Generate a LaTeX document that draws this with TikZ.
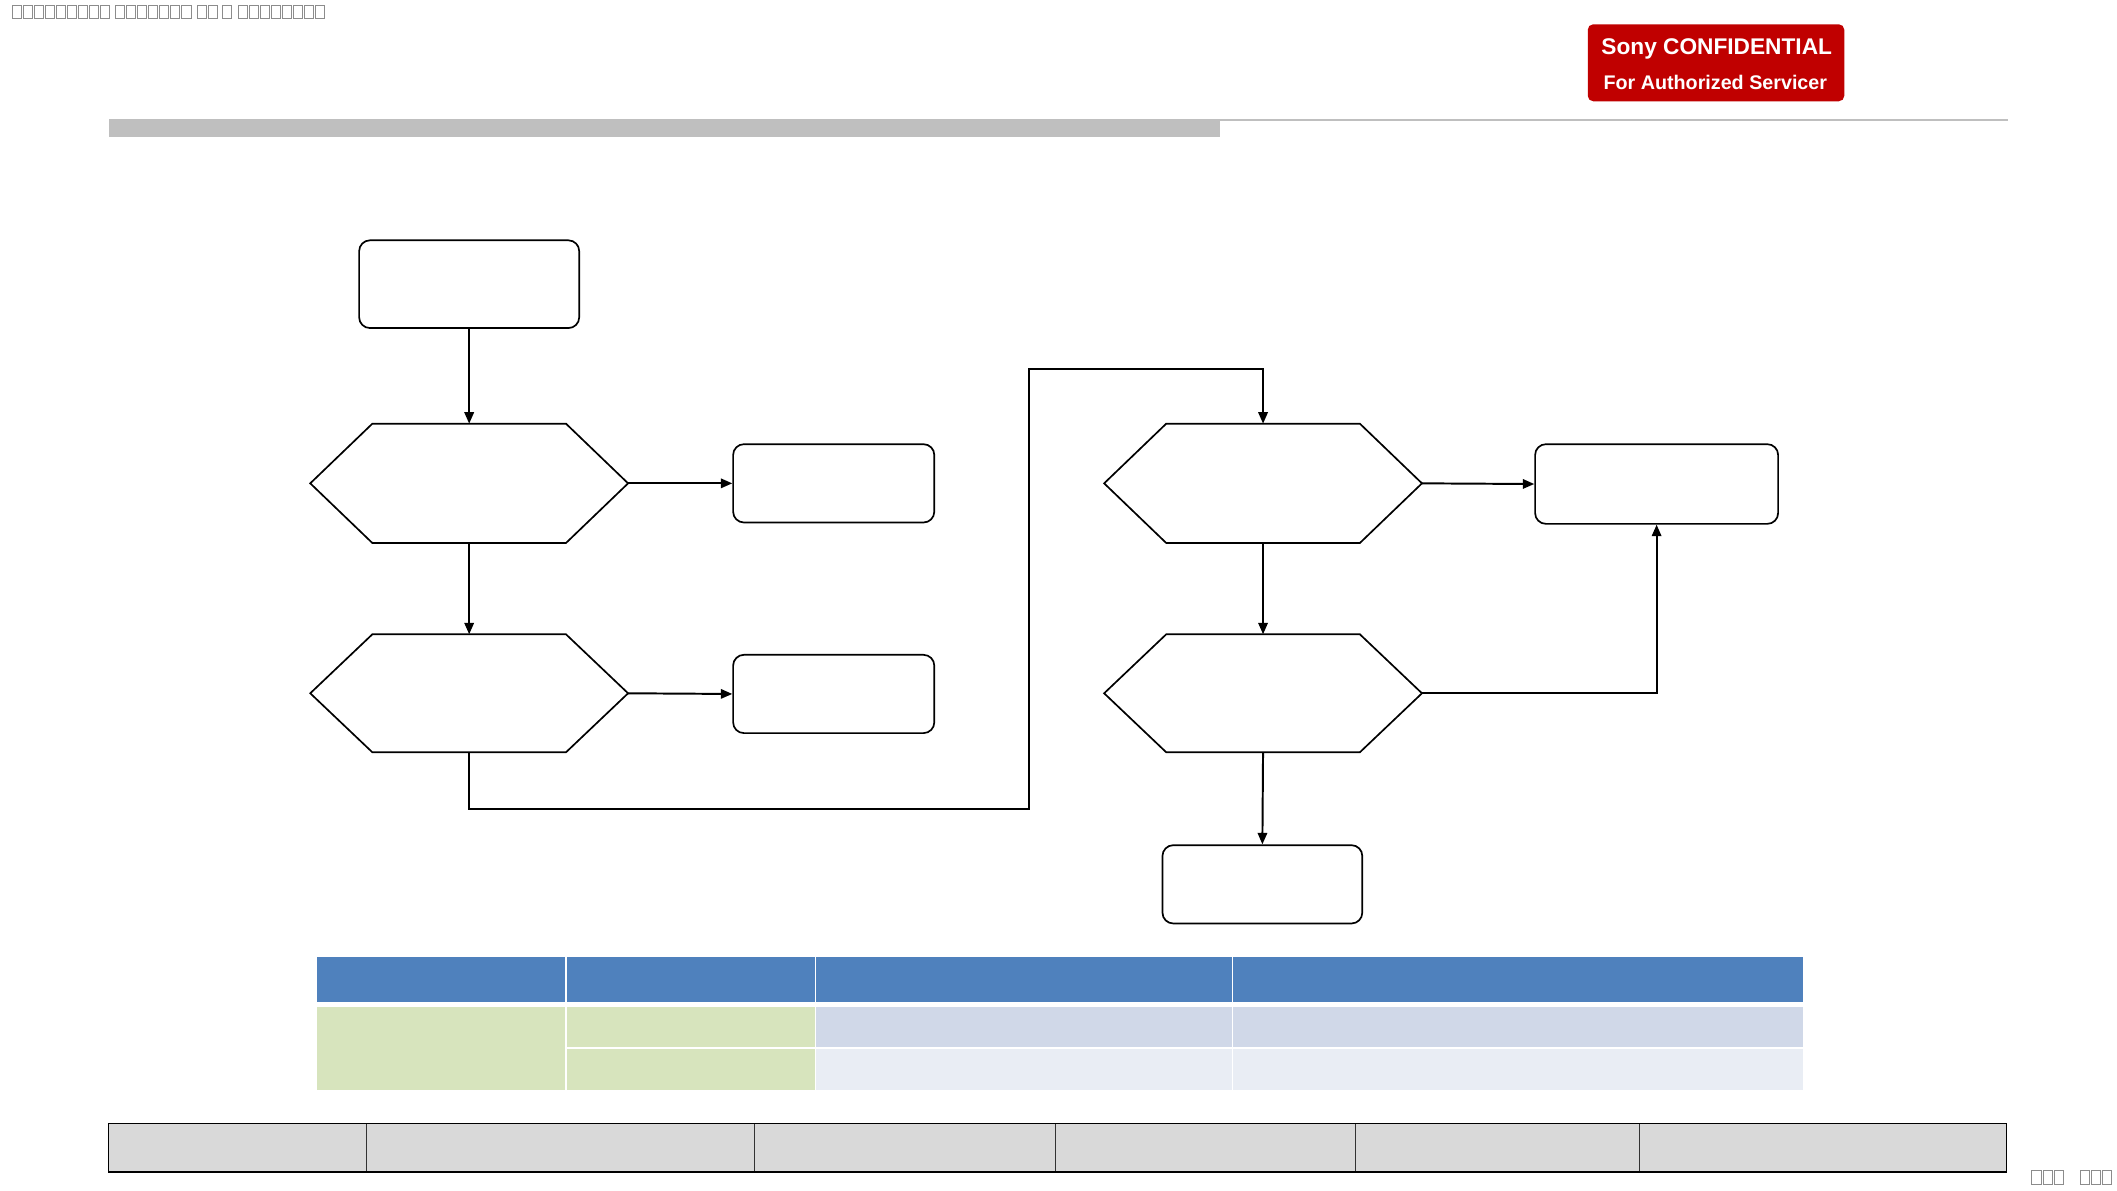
\documentclass[tikz,border=0pt]{standalone}
\usepackage{fontspec}
\setmainfont{Liberation Sans}
\usetikzlibrary{calc,arrows.meta}
\definecolor{sonyred}{HTML}{C00000}
\definecolor{hdrgray}{HTML}{BFBFBF}
\definecolor{tblblue}{HTML}{4F81BD}
\definecolor{tblrow1}{HTML}{D0D8E8}
\definecolor{tblrow2}{HTML}{E9EDF4}
\definecolor{tblgreen}{HTML}{D7E4BD}
\definecolor{footgray}{HTML}{D9D9D9}
\definecolor{tofugray}{HTML}{8C8C8C}
\tikzset{
  roundbox/.style={draw=black, line width=1.25pt, rounded corners=8pt, fill=white, inner sep=0pt},
  hexbox/.style={draw=none, inner sep=0pt, minimum width=235pt, minimum height=88pt},
  hexline/.style={draw=black, line width=1.25pt, line join=miter},
  conn/.style={draw=black, line width=1.45pt, -{Triangle[length=8.5pt,width=7pt]}},
  tofu/.style={draw=tofugray, line width=0.75pt},
  cellsep/.style={draw=white, line width=1.2pt}
}
\newcommand{\hexdraw}[1]{%
  \draw[hexline] ($(#1.north west)+(46,0)$) -- ($(#1.north east)+(-46,0)$) -- (#1.east)
    -- ($(#1.south east)+(-46,0)$) -- ($(#1.south west)+(46,0)$) -- (#1.west) -- cycle;}
\newcommand{\tofurow}[3]{% start x, y, count
  \foreach \k in {1,...,#3} {\draw[tofu] ({#1+(\k-1)*8.2},#2) rectangle ++(6.8,10);}}
\begin{document}
\begin{tikzpicture}[x=1pt,y=-1pt]
\useasboundingbox (0,0) rectangle (1568,882);
\fill[white] (0,0) rectangle (1568,882);

% tofu text top-left
\tofurow{9}{4}{9}
\tofurow{85.5}{4}{7}
\tofurow{146}{4}{2}
\tofurow{164.5}{4}{1}
\tofurow{176.5}{4}{8}
% tofu text bottom-right
\tofurow{1505}{867}{3}
\tofurow{1541}{867}{3}

% confidential badge
\node[fill=sonyred, rounded corners=4pt, minimum width=190pt, minimum height=57pt, inner sep=0pt] (badge) at (1271,46.5) {};
\node[text=white, font=\bfseries\fontsize{16.8}{19}\selectfont, inner sep=0pt] (badge1) at (1271.5,36) {Sony CONFIDENTIAL};
\node[text=white, font=\bfseries\fontsize{14.6}{17}\selectfont, inner sep=0pt] (badge2) at (1270.5,61) {For Authorized Servicer};

% header bar
\fill[hdrgray] (81,88) rectangle (903.5,101.5);
\draw[hdrgray, line width=1.4pt] (903,88.7) -- (1487,88.7);

% flowchart nodes
\node[roundbox, minimum width=163pt, minimum height=65pt] (start) at (347.5,210.5) {};
\node[hexbox] (h1) at (347.5,358) {};
\hexdraw{h1}
\node[roundbox, minimum width=149pt, minimum height=58pt] (r1) at (617.5,358) {};
\node[hexbox, minimum height=87pt] (h2) at (347.5,513.5) {};
\hexdraw{h2}
\node[roundbox, minimum width=149pt, minimum height=58pt] (r2) at (617.5,514) {};
\node[hexbox] (h3) at (935.5,358) {};
\hexdraw{h3}
\node[roundbox, minimum width=180pt, minimum height=59pt] (r3) at (1227,358.5) {};
\node[hexbox, minimum height=87pt] (h4) at (935.5,513.5) {};
\hexdraw{h4}
\node[roundbox, minimum width=148pt, minimum height=58pt] (end) at (935,655) {};

\coordinate (c1) at (762,599.5);
\coordinate (c2) at (762,273.5);

% connectors
\draw[conn] (start.south) -- (h1.north);
\draw[conn] (h1.east) -- (r1.west);
\draw[conn] (h1.south) -- (h2.north);
\draw[conn] (h2.east) -- (r2.west);
\draw[conn] (h2.south) |- (c1) -- (c2) -| (h3.north);
\draw[conn] (h3.east) -- (r3.west);
\draw[conn] (h3.south) -- (h4.north);
\draw[conn] (h4.east) -| (r3.south);
\draw[conn] (h4.south) -- (end.north);

% table
\fill[tblblue] (234.5,709) rectangle (1335.5,742);
\fill[tblgreen] (234.5,746) rectangle (604,807);
\fill[tblrow1] (604,746) rectangle (1335.5,776);
\fill[tblrow2] (604,776) rectangle (1335.5,807);
\draw[cellsep] (419,709) -- (419,742);
\draw[cellsep] (604,709) -- (604,742);
\draw[cellsep] (913,709) -- (913,742);
\draw[cellsep] (419,746) -- (419,807);
\draw[cellsep] (604,746) -- (604,807);
\draw[cellsep] (913,746) -- (913,807);
\draw[cellsep] (419,776.3) -- (1335.5,776.3);

% footer bar
\fill[footgray] (80.5,832) rectangle (1486,868);
\draw[black, line width=0.5pt] (80.5,832) -- (80.5,868);
\draw[black, line width=0.5pt] (1486,832) -- (1486,868);
\foreach \xx in {271,559,782,1004,1214} {\draw[black!80, line width=0.5pt] (\xx,832) -- (\xx,868);}
\draw[black, line width=1.2pt] (80,832) -- (1486.5,832);
\draw[black, line width=1.2pt] (80,868) -- (1486.5,868);
\end{tikzpicture}
\end{document}
